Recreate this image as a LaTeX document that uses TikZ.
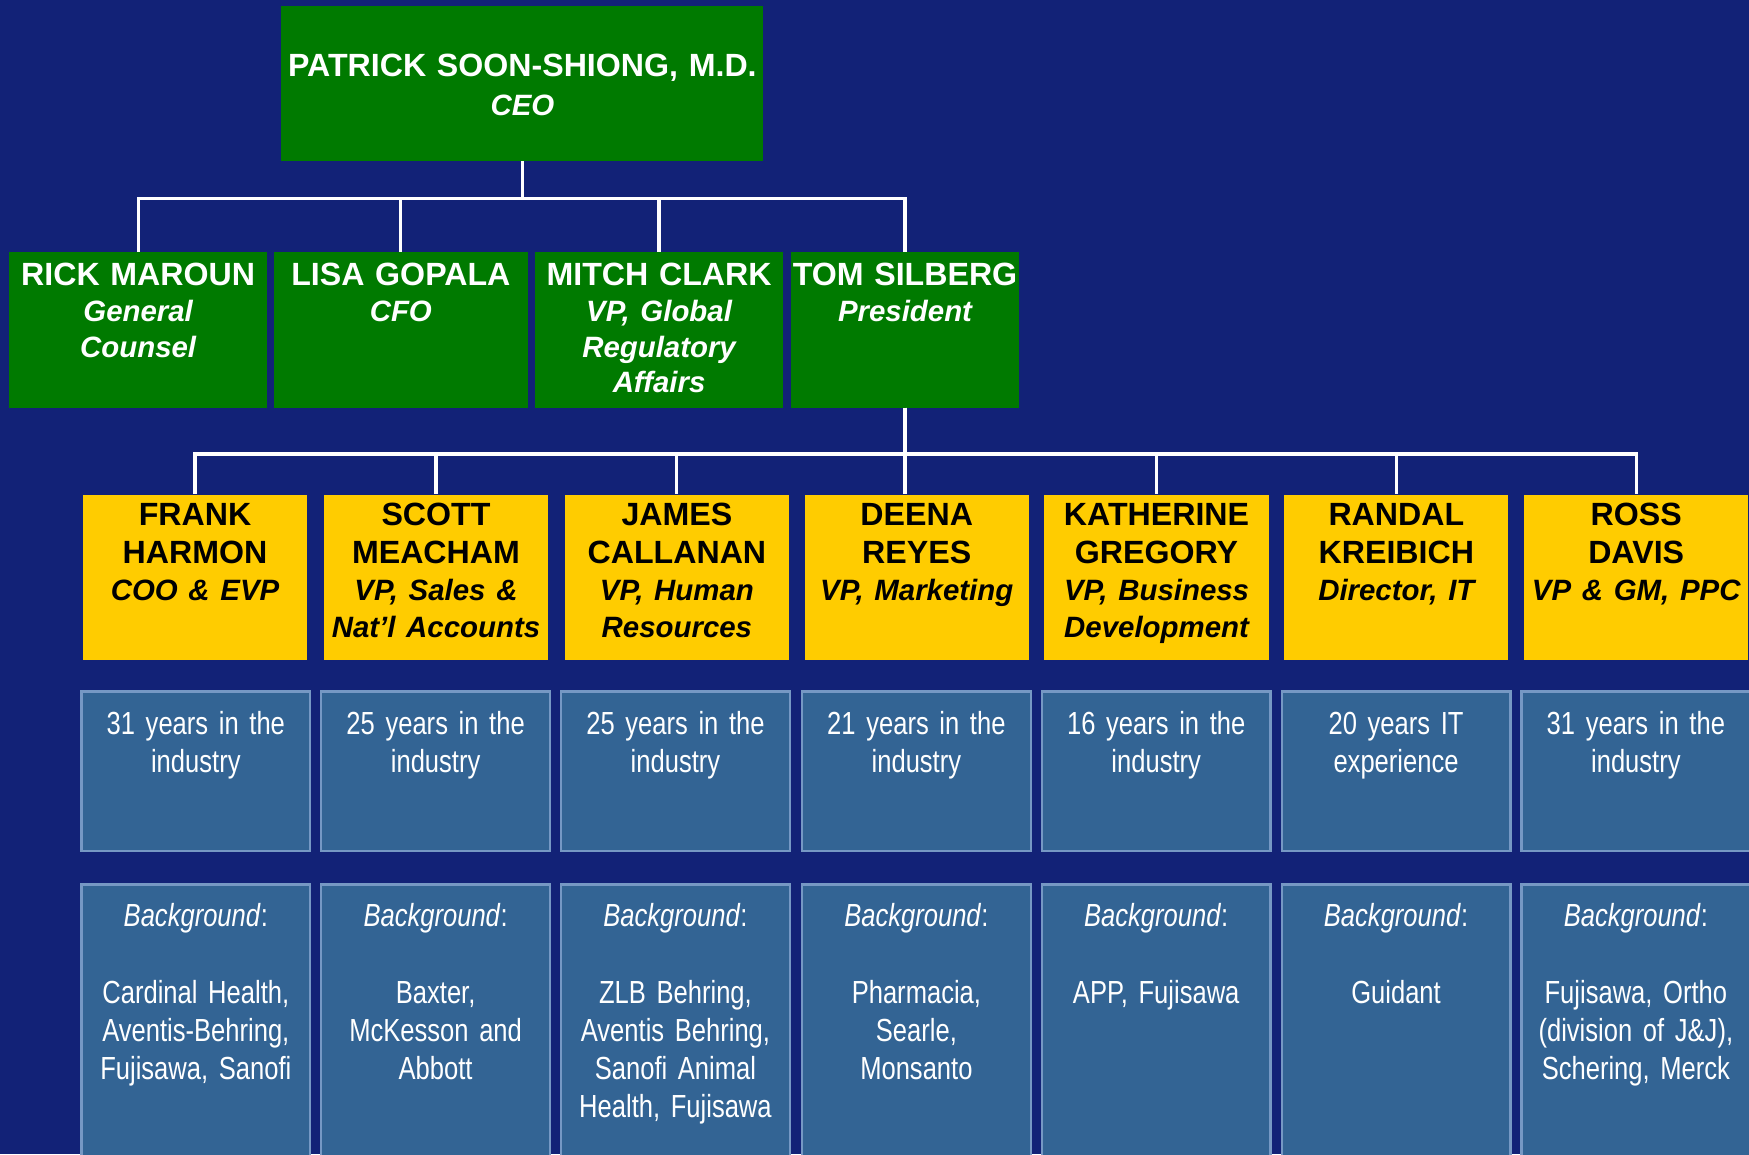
\documentclass[tikz,border=0pt]{standalone}
\usepackage{fontspec}
\setmainfont{Liberation Sans}
\newfontfamily\narrowfont{Liberation Sans}[FakeStretch=0.8, WordSpace=0.7]
\usetikzlibrary{positioning}

\definecolor{navy}{RGB}{18,34,119}
\definecolor{boardgreen}{RGB}{0,122,0}
\definecolor{vpyellow}{RGB}{255,204,0}
\definecolor{infoblue}{RGB}{51,100,148}
\definecolor{infoedge}{RGB}{118,152,196}

\newcommand{\jobtitle}[1]{{\fontsize{15}{19}\selectfont\itshape #1}}

\begin{document}
\begin{tikzpicture}[x=0.2mm, y=-0.2mm,
    link/.style={draw=white, line width=1.6pt},
    ceobox/.style={fill=boardgreen, text=white, anchor=north west, inner sep=0pt, align=center,
        text width=86.4mm, text height=12.6mm, text depth=15.2mm,
        font=\fontsize{16.4}{20}\selectfont\bfseries},
    execbox/.style={fill=boardgreen, text=white, anchor=north west, inner sep=0pt, align=center,
        text height=6mm, text depth=21.8mm,
        font=\fontsize{16.4}{18.2}\selectfont\bfseries},
    vpbox/.style={fill=vpyellow, text=black, anchor=north west, inner sep=0pt, align=center,
        text width=40.2mm, text height=5.6mm, text depth=24mm,
        font=\fontsize{16.4}{19}\selectfont\bfseries},
    yrsbox/.style={fill=infoblue, draw=infoedge, line width=1.2pt, text=white, anchor=north west,
        inner sep=0pt, align=center, text width=41mm, text height=7.6mm, text depth=21mm,
        font=\narrowfont\fontsize{16.3}{19.4}\selectfont},
    bgbox/.style={yrsbox, text depth=45mm}]

    \useasboundingbox (0,0) rectangle (1568,1035);
    \clip (0,0) rectangle (1568,1035);
    \fill[navy] (0,0) rectangle (1568,1035);

    % top level
    \node[ceobox] (ceo) at (252,5) {PATRICK SOON-SHIONG, M.D.\\ \jobtitle{CEO}};

    % reports to the CEO
    \node[execbox, text width=46.2mm] (rick) at (8,226) {RICK MAROUN\\ \jobtitle{General}\\ \jobtitle{Counsel}};
    \node[execbox, text width=45.6mm] (lisa) at (245,226) {LISA GOPALA\\ \jobtitle{CFO}};
    \node[execbox, text width=44.6mm] (mitch) at (479,226) {MITCH CLARK\\ \jobtitle{VP, Global}\\ \jobtitle{Regulatory}\\ \jobtitle{Affairs}};
    \node[execbox, text width=40.8mm] (tom) at (709,226) {TOM SILBERG\\ \jobtitle{President}};

    % reports to the president
    \node[vpbox] (frank) at (74,443) {FRANK\\ HARMON\\ \jobtitle{COO \& EVP}};
    \node[vpbox] (scott) at (290,443) {SCOTT\\ MEACHAM\\ \jobtitle{VP, Sales \&}\\ \jobtitle{Nat’l Accounts}};
    \node[vpbox] (james) at (506,443) {JAMES\\ CALLANAN\\ \jobtitle{VP, Human}\\ \jobtitle{Resources}};
    \node[vpbox] (deena) at (721,443) {DEENA\\ REYES\\ \jobtitle{VP, Marketing}};
    \node[vpbox] (katherine) at (936,443) {KATHERINE\\ GREGORY\\ \jobtitle{VP, Business}\\ \jobtitle{Development}};
    \node[vpbox] (randal) at (1151,443) {RANDAL\\ KREIBICH\\ \jobtitle{Director, IT}};
    \node[vpbox] (ross) at (1366,443) {ROSS\\ DAVIS\\ \jobtitle{VP \& GM, PPC}};

    % experience
    \node[yrsbox] (frankyrs) at (72,619) {31 years in the\\ industry};
    \node[yrsbox] (scottyrs) at (287,619) {25 years in the\\ industry};
    \node[yrsbox] (jamesyrs) at (502,619) {25 years in the\\ industry};
    \node[yrsbox] (deenayrs) at (718,619) {21 years in the\\ industry};
    \node[yrsbox] (katherineyrs) at (933,619) {16 years in the\\ industry};
    \node[yrsbox] (randalyrs) at (1148,619) {20 years IT\\ experience};
    \node[yrsbox] (rossyrs) at (1363,619) {31 years in the\\ industry};

    % background
    \node[bgbox] (frankbg) at (72,792) {\textit{Background}:\\[19.4pt] Cardinal Health,\\ Aventis-Behring,\\ Fujisawa, Sanofi};
    \node[bgbox] (scottbg) at (287,792) {\textit{Background}:\\[19.4pt] Baxter,\\ McKesson and\\ Abbott};
    \node[bgbox] (jamesbg) at (502,792) {\textit{Background}:\\[19.4pt] ZLB Behring,\\ Aventis Behring,\\ Sanofi Animal\\ Health, Fujisawa};
    \node[bgbox] (deenabg) at (718,792) {\textit{Background}:\\[19.4pt] Pharmacia,\\ Searle,\\ Monsanto};
    \node[bgbox] (katherinebg) at (933,792) {\textit{Background}:\\[19.4pt] APP, Fujisawa};
    \node[bgbox] (randalbg) at (1148,792) {\textit{Background}:\\[19.4pt] Guidant};
    \node[bgbox] (rossbg) at (1363,792) {\textit{Background}:\\[19.4pt] Fujisawa, Ortho\\ (division of J\&J),\\ Schering, Merck};

    % connectors
    \coordinate (bus1) at (0,178);
    \coordinate (bus2) at (0,407);
    \foreach \n in {rick,lisa,mitch,tom}
        \draw[link] (ceo.south) -- (ceo.south |- bus1) -| (\n.north);
    \foreach \n in {frank,scott,james,katherine,randal,ross}
        \draw[link] (tom.south) -- (tom.south |- bus2) -| (\n.north);
    \draw[link] (tom.south) -- (tom.south |- deena.north);
\end{tikzpicture}
\end{document}
